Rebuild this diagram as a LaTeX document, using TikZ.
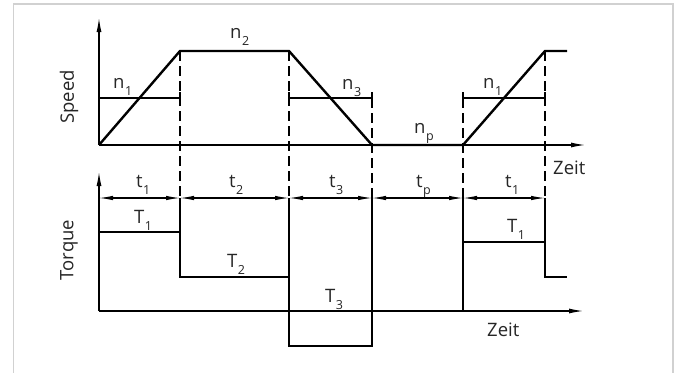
\documentclass[tikz,border=0pt]{standalone}
\usepackage{fontspec}
\setmainfont{Open Sans}
\usetikzlibrary{arrows.meta}
\newcommand\lbl[2]{#1\kern0.5pt\raisebox{-7pt}{\fontsize{12.5}{12.5}\selectfont #2}}
\begin{document}
\begin{tikzpicture}[x=1pt,y=-1pt,
  thinl/.style={line width=1.1pt},
  wave/.style={line width=2.4pt, line join=miter},
  dashl/.style={line width=1.1pt, dash pattern=on 10pt off 5pt},
  axis/.style={line width=1.1pt, -{Latex[length=14pt,width=5pt]}},
  dim/.style={line width=1.1pt, {Latex[length=14pt,width=4.5pt]}-{Latex[length=14pt,width=4.5pt]}},
  lab/.style={font=\fontsize{18.5}{19}\selectfont, inner sep=0pt, text=black!85, anchor=base west},
  frame/.style={black!18, line width=1.6pt},
]
\useasboundingbox (0,0) rectangle (677,372);
\draw[frame] (13.5,380) -- (13.5,4) -- (673,4) -- (673,380);

% ---------- named coordinates ----------
\coordinate (so) at (99,145);   % speed origin
\coordinate (stop) at (99,18);
\coordinate (send) at (585,145);
\coordinate (to) at (99,311);   % torque origin
\coordinate (ttop) at (99,172);
\coordinate (tend) at (583,311);

% ---------- speed axes ----------
\draw[axis] (so) -- (stop);
\draw[axis] (so) -- (send);

% ---------- dashed guide lines ----------
\draw[dashl] (180,51) -- (180,198);
\draw[dashl] (289,51) -- (289,198);
\draw[dashl] (372,98) -- (372,198);
\draw[dashl] (463,98) -- (463,198);
\draw[dashl] (545,51) -- (545,198);

% ---------- n brackets ----------
\draw[thinl] (99,98) -- (180,98);
\draw[thinl] (180,92) -- (180,104);
\draw[thinl] (289,98) -- (372,98);
\draw[thinl] (289,92) -- (289,104) (372,92) -- (372,104);
\draw[thinl] (463,98) -- (545,98);
\draw[thinl] (463,92) -- (463,104) (545,92) -- (545,104);

% ---------- speed curve ----------
\draw[wave] (so) -- (180,51) -- (289,51) -- (372,145) -- (463,145) -- (545,51) -- (567,51);

% ---------- torque axes ----------
\draw[axis] (to) -- (ttop);
\draw[axis] (to) -- (tend);

% ---------- solid guide lines (torque) ----------
\draw[thinl] (180,198) -- (180,232);
\draw[thinl] (289,198) -- (289,277);
\draw[thinl] (372,198) -- (372,311);
\draw[thinl] (463,198) -- (463,242);
\draw[thinl] (545,198) -- (545,242);

% ---------- dimension arrows ----------
\draw[dim] (99,198) -- (180,198);
\draw[dim] (180,198) -- (289,198);
\draw[dim] (289,198) -- (372,198);
\draw[dim] (372,198) -- (463,198);
\draw[dim] (463,198) -- (545,198);

% ---------- torque curve ----------
\draw[wave] (99,232) -- (180,232) -- (180,277) -- (289,277) -- (289,346) -- (372,346)
  -- (372,311) -- (463,311) -- (463,242) -- (545,242) -- (545,277) -- (567,277);

% ---------- labels ----------
\node[lab] (ln1) at (113,88) {\lbl{n}{1}};
\node[lab] (ln2) at (230,38) {\lbl{n}{2}};
\node[lab] (ln3) at (342,89) {\lbl{n}{3}};
\node[lab] (lnp) at (414,133) {\lbl{n}{p}};
\node[lab] (ln1b) at (483,88) {\lbl{n}{1}};
\node[lab] (lt1) at (136,187) {\lbl{t}{1}};
\node[lab] (lt2) at (229,187) {\lbl{t}{2}};
\node[lab] (lt3) at (329,187) {\lbl{t}{3}};
\node[lab] (ltp) at (416,187) {\lbl{t}{p}};
\node[lab] (lt1b) at (505,187) {\lbl{t}{1}};
\node[lab] (lT1) at (134,223) {\lbl{T}{1}};
\node[lab] (lT2) at (227,267) {\lbl{T}{2}};
\node[lab] (lT3) at (325,302) {\lbl{T}{3}};
\node[lab] (lT1b) at (507,232) {\lbl{T}{1}};
\node[lab] (z1) at (553,174) {Zeit};
\node[lab] (z2) at (487,336) {Zeit};
\node[lab, anchor=center, rotate=90] (sp) at (69,97) {Speed};
\node[lab, anchor=center, rotate=90] (tq) at (69,250) {Torque};
\end{tikzpicture}
\end{document}
